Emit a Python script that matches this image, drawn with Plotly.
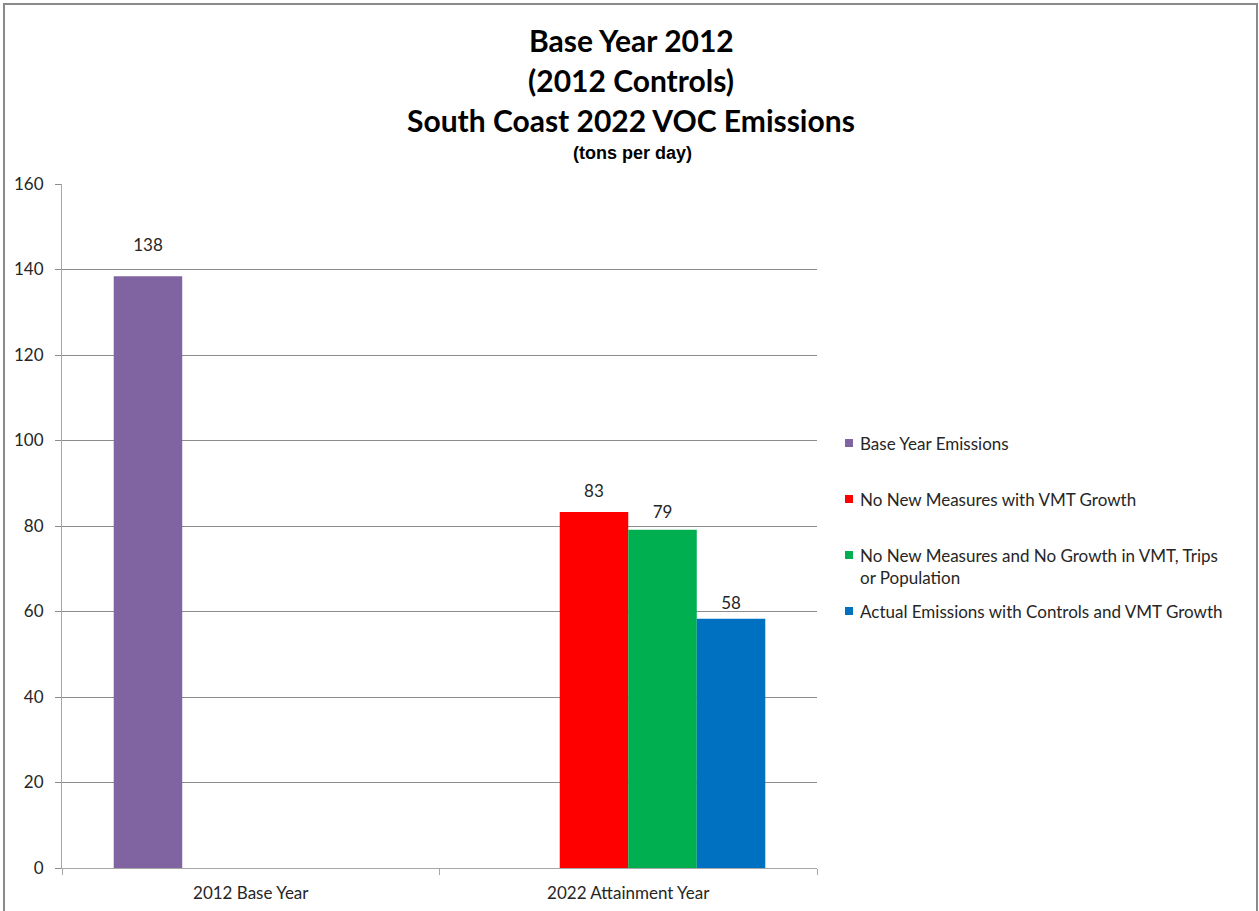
import plotly.graph_objects as go

# ---- data ----
categories = ["2012 Base Year", "2022 Attainment Year"]
series_names = [
    "Base Year Emissions",
    "No New Measures with VMT Growth",
    "No New Measures and No Growth in VMT, Trips<br>or Population",
    "Actual Emissions with Controls and VMT Growth",
]
base_year = [138.4, None]
no_new_vmt = [None, 83.3]
no_new_no_growth = [None, 79.1]
actual_controls = [None, 58.3]
series_values = [base_year, no_new_vmt, no_new_no_growth, actual_controls]
series_colors = ["#8064A2", "#FF0000", "#00B050", "#0070C0"]
label_pad = [32, 16, 10, 8]  # invisible marker size used to lift value labels
y_ticks = [0, 20, 40, 60, 80, 100, 120, 140, 160]

title_lines = ["Base Year 2012", "(2012 Controls)", "South Coast 2022 VOC Emissions"]
subtitle = "(tons per day)"

# ---- geometry helpers (figure px -> paper coords) ----
W, H = 1259, 911
L, R, T, B = 62, 817, 184, 868


def px_x(px):
    return (px - L) / (R - L)


def px_y(py):
    return (B - py) / (B - T)


FONT = "Lato, Calibri, Arial, sans-serif"
TXT = "#262626"
BODY = 17

fig = go.Figure()
for name, vals, col in zip(series_names, series_values, series_colors):
    fig.add_trace(
        go.Bar(
            x=categories,
            y=vals,
            name=name,
            marker=dict(color=col, line=dict(width=0)),
            showlegend=False,
            hoverinfo="skip",
        )
    )

# value labels, grouped like the bars
for name, vals, pad in zip(series_names, series_values, label_pad):
    fig.add_trace(
        go.Scatter(
            x=categories,
            y=vals,
            mode="markers+text",
            marker=dict(size=pad, opacity=0),
            text=[None if v is None else f"{v:.0f}" for v in vals],
            textposition="top center",
            textfont=dict(family=FONT, size=BODY, color=TXT),
            cliponaxis=False,
            showlegend=False,
            hoverinfo="skip",
        )
    )

annotations = []
title_y = [40, 80, 120]
for line, ty in zip(title_lines, title_y):
    annotations.append(
        dict(
            text=f"<b>{line}</b>",
            xref="paper", yref="paper",
            x=px_x(631), y=px_y(ty),
            xanchor="center", yanchor="middle",
            showarrow=False,
            font=dict(family=FONT, size=30, color="#000000"),
        )
    )
annotations.append(
    dict(
        text=f"<b>{subtitle}</b>",
        xref="paper", yref="paper",
        x=px_x(632), y=px_y(153),
        xanchor="center", yanchor="middle",
        showarrow=False,
        font=dict(family="Liberation Sans, Arial, sans-serif", size=18, color="#000000"),
    )
)

# manual legend
shapes = []
leg_top = 443
leg_step = 56
for i, (name, col) in enumerate(zip(series_names, series_colors)):
    cy = leg_top + i * leg_step
    shapes.append(
        dict(
            type="rect", xref="paper", yref="paper",
            x0=px_x(845), x1=px_x(853), y0=px_y(cy + 4), y1=px_y(cy - 4),
            fillcolor=col, line=dict(width=0),
        )
    )
    annotations.append(
        dict(
            text=name,
            xref="paper", yref="paper",
            x=px_x(858), y=px_y(cy - 12),
            xanchor="left", yanchor="top", align="left",
            showarrow=False,
            font=dict(family=FONT, size=BODY, color=TXT),
        )
    )

# outer frame
shapes.append(
    dict(
        type="rect", xref="paper", yref="paper",
        x0=px_x(4), x1=px_x(1257), y0=px_y(915), y1=px_y(4),
        line=dict(color="#8A8A8A", width=2), fillcolor="rgba(0,0,0,0)",
        layer="below",
    )
)

fig.update_layout(
    width=W, height=H,
    margin=dict(l=L, r=W - R, t=T, b=H - B, autoexpand=False),
    paper_bgcolor="white",
    plot_bgcolor="white",
    barmode="group",
    bargap=0.274,
    bargroupgap=0,
    scattermode="group",
    scattergap=0.274,
    showlegend=False,
    annotations=annotations,
    shapes=shapes,
    font=dict(family=FONT, size=BODY, color=TXT),
)
fig.update_xaxes(
    type="category",
    showline=True, linecolor="#A6A6A6", linewidth=1,
    ticks="outside", tickson="boundaries", ticklen=6, tickcolor="#A6A6A6",
    tickfont=dict(family=FONT, size=BODY, color=TXT),
    ticklabelstandoff=10,
    showgrid=False,
)
fig.update_yaxes(
    range=[0, 160], tickvals=y_ticks, ticktext=[str(v) for v in y_ticks],
    showline=True, linecolor="#A6A6A6", linewidth=1,
    ticks="outside", ticklen=6, tickcolor="#8C8C8C",
    ticklabelstandoff=8,
    showgrid=True, gridcolor="#8C8C8C", gridwidth=1,
    zeroline=False,
    tickfont=dict(family=FONT, size=BODY, color=TXT),
)

fig.write_html("out.html")
